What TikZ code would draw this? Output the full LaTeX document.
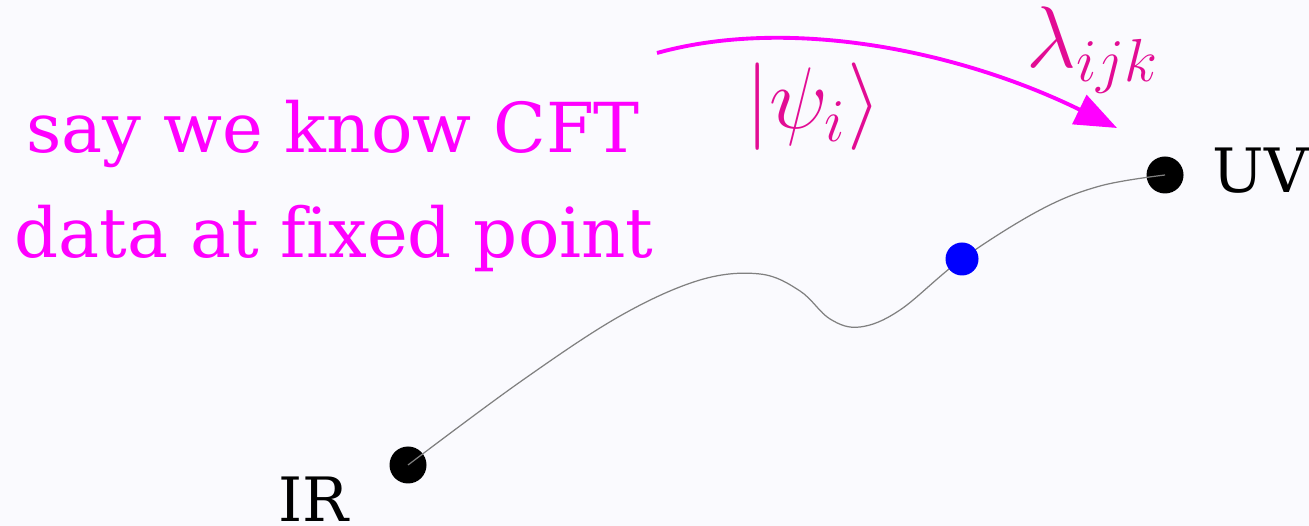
\documentclass[tikz,border=0pt]{standalone}
\usepackage{fontspec}
\setmainfont{DejaVu Serif}[Ligatures=NoCommon]
\usepackage{amsmath}
\usetikzlibrary{positioning,arrows.meta,calc}

\definecolor{bgpaper}{RGB}{250,250,254}
\definecolor{notemag}{RGB}{255,0,255}
\definecolor{datapink}{RGB}{226,12,148}

\begin{document}
\begin{tikzpicture}[
    dot/.style={circle, fill=black, inner sep=0pt, minimum size=0.37cm},
    bluedot/.style={circle, fill=blue, inner sep=0pt, minimum size=0.33cm},
    note/.style={text=notemag, inner sep=0pt, font=\fontsize{19.6}{24}\selectfont},
    endlabel/.style={inner sep=0pt, font=\fontsize{17.4}{21}\selectfont},
    mathlabel/.style={text=datapink, inner sep=0pt, font=\fontsize{23}{28}\selectfont},
    flowline/.style={gray, line width=0.35pt},
    arrow/.style={-{Triangle[length=4.2mm, width=3.2mm]}, notemag, line width=1.1pt}
]
\useasboundingbox[fill=bgpaper] (0,0) rectangle (13.09,5.26);

% Nodes
\node[dot] (ir) at (4.08,0.61) {};
\node[dot] (uv) at (11.65,3.51) {};
\coordinate (flow) at (9.62,2.67);
\node[endlabel, anchor=base west] (irlabel) at (2.78,0.04) {IR};
\node[endlabel, anchor=base west] (uvlabel) at (12.12,3.33) {UV};
\node[note, anchor=base] (say) at (3.33,3.73) {say we know CFT};
\node[note, anchor=base] (data) at (3.34,2.68) {data at fixed point};
\node[mathlabel] (state) at (8.13,4.19) {$|\psi_i\rangle$};
\node[mathlabel] (ope) at (10.93,4.76) {$\lambda_{ijk}$};
\coordinate (arrstart) at (6.57,4.73);
\coordinate (arrend) at (11.17,3.98);

% RG flow
\draw[flowline] plot[smooth, tension=0.6] coordinates {(ir.center) (5.20,1.44) (6.20,2.10) (7.00,2.46) (7.60,2.52) (8.00,2.35) (8.30,2.07) (8.60,1.99) (9.00,2.16) (flow) (10.40,3.16) (11.00,3.40) (uv.center)};
\node[bluedot] (blue) at (flow) {};

% Arrows
\draw[arrow] (arrstart) .. controls (7.9,5.1) and (9.6,4.75) .. (arrend);

\end{tikzpicture}
\end{document}
